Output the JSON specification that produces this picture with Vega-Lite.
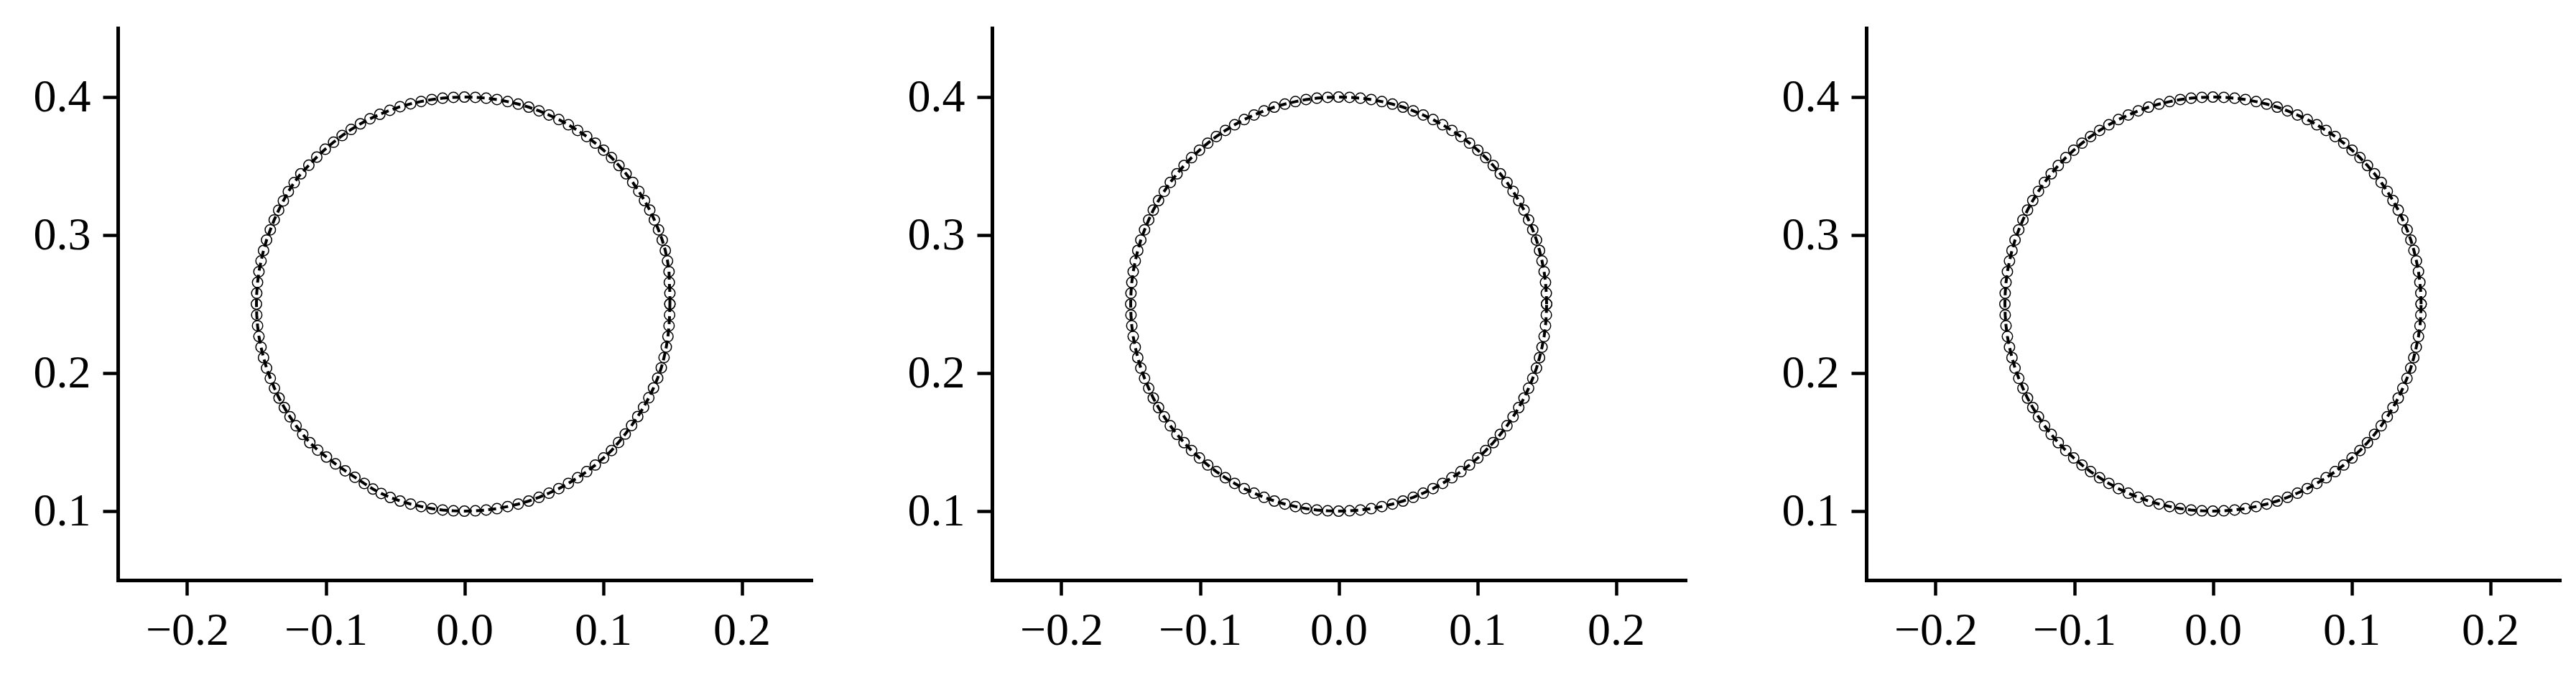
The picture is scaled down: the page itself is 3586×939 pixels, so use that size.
{
  "$schema": "https://vega.github.io/schema/vega-lite/v6.json",
  "padding": {"left": 46, "top": 39, "right": 5, "bottom": 5},
  "background": "white",
  "bounds": "flush",
  "spacing": 252,
  "config": {
    "view": {"stroke": null},
    "font": "Liberation Serif",
    "axis": {
      "grid": false,
      "title": null,
      "domainColor": "black",
      "domainWidth": 5,
      "domainCap": "square",
      "tickColor": "black",
      "tickWidth": 4.5,
      "tickSize": 21,
      "labelFont": "Liberation Serif",
      "labelFontSize": 64,
      "labelColor": "black",
      "labelPadding": 17
    }
  },
  "datasets": {
    "p1": [
      {"i":0,"x":0.1482,"y":0.2500},{"i":1,"x":0.1482,"y":0.2579},{"i":2,"x":0.1478,"y":0.2657},{"i":3,"x":0.1476,"y":0.2735},{"i":4,"x":0.1465,"y":0.2812},
      {"i":5,"x":0.1449,"y":0.2888},{"i":6,"x":0.1427,"y":0.2964},{"i":7,"x":0.1400,"y":0.3038},{"i":8,"x":0.1370,"y":0.3110},{"i":9,"x":0.1337,"y":0.3181},
      {"i":10,"x":0.1299,"y":0.3250},{"i":11,"x":0.1258,"y":0.3317},{"i":12,"x":0.1214,"y":0.3382},{"i":13,"x":0.1166,"y":0.3444},{"i":14,"x":0.1115,"y":0.3504},
      {"i":15,"x":0.1061,"y":0.3561},{"i":16,"x":0.1004,"y":0.3615},{"i":17,"x":0.0944,"y":0.3666},{"i":18,"x":0.0882,"y":0.3714},{"i":19,"x":0.0817,"y":0.3758},
      {"i":20,"x":0.0750,"y":0.3799},{"i":21,"x":0.0681,"y":0.3837},{"i":22,"x":0.0610,"y":0.3870},{"i":23,"x":0.0538,"y":0.3900},{"i":24,"x":0.0464,"y":0.3927},
      {"i":25,"x":0.0388,"y":0.3949},{"i":26,"x":0.0312,"y":0.3967},{"i":27,"x":0.0235,"y":0.3982},{"i":28,"x":0.0157,"y":0.3992},{"i":29,"x":0.0079,"y":0.3998},
      {"i":30,"x":0.0000,"y":0.4000},{"i":31,"x":-0.0079,"y":0.3998},{"i":32,"x":-0.0157,"y":0.3992},{"i":33,"x":-0.0235,"y":0.3982},{"i":34,"x":-0.0312,"y":0.3968},
      {"i":35,"x":-0.0388,"y":0.3951},{"i":36,"x":-0.0464,"y":0.3930},{"i":37,"x":-0.0538,"y":0.3904},{"i":38,"x":-0.0610,"y":0.3875},{"i":39,"x":-0.0681,"y":0.3843},
      {"i":40,"x":-0.0750,"y":0.3806},{"i":41,"x":-0.0817,"y":0.3765},{"i":42,"x":-0.0882,"y":0.3721},{"i":43,"x":-0.0944,"y":0.3673},{"i":44,"x":-0.1004,"y":0.3622},
      {"i":45,"x":-0.1065,"y":0.3565},{"i":46,"x":-0.1122,"y":0.3506},{"i":47,"x":-0.1180,"y":0.3444},{"i":48,"x":-0.1228,"y":0.3380},{"i":49,"x":-0.1270,"y":0.3315},
      {"i":50,"x":-0.1306,"y":0.3248},{"i":51,"x":-0.1340,"y":0.3180},{"i":52,"x":-0.1372,"y":0.3110},{"i":53,"x":-0.1400,"y":0.3038},{"i":54,"x":-0.1427,"y":0.2964},
      {"i":55,"x":-0.1449,"y":0.2888},{"i":56,"x":-0.1467,"y":0.2812},{"i":57,"x":-0.1482,"y":0.2735},{"i":58,"x":-0.1492,"y":0.2657},{"i":59,"x":-0.1498,"y":0.2579},
      {"i":60,"x":-0.1500,"y":0.2500},{"i":61,"x":-0.1498,"y":0.2421},{"i":62,"x":-0.1492,"y":0.2343},{"i":63,"x":-0.1482,"y":0.2265},{"i":64,"x":-0.1467,"y":0.2188},
      {"i":65,"x":-0.1449,"y":0.2112},{"i":66,"x":-0.1427,"y":0.2036},{"i":67,"x":-0.1400,"y":0.1962},{"i":68,"x":-0.1370,"y":0.1890},{"i":69,"x":-0.1337,"y":0.1819},
      {"i":70,"x":-0.1299,"y":0.1750},{"i":71,"x":-0.1258,"y":0.1683},{"i":72,"x":-0.1214,"y":0.1618},{"i":73,"x":-0.1166,"y":0.1556},{"i":74,"x":-0.1115,"y":0.1496},
      {"i":75,"x":-0.1058,"y":0.1442},{"i":76,"x":-0.0995,"y":0.1392},{"i":77,"x":-0.0930,"y":0.1342},{"i":78,"x":-0.0860,"y":0.1292},{"i":79,"x":-0.0790,"y":0.1245},
      {"i":80,"x":-0.0722,"y":0.1200},{"i":81,"x":-0.0660,"y":0.1160},{"i":82,"x":-0.0600,"y":0.1128},{"i":83,"x":-0.0535,"y":0.1099},{"i":84,"x":-0.0464,"y":0.1073},
      {"i":85,"x":-0.0388,"y":0.1051},{"i":86,"x":-0.0312,"y":0.1033},{"i":87,"x":-0.0235,"y":0.1018},{"i":88,"x":-0.0157,"y":0.1008},{"i":89,"x":-0.0079,"y":0.1002},
      {"i":90,"x":0.0000,"y":0.1000},{"i":91,"x":0.0079,"y":0.1002},{"i":92,"x":0.0157,"y":0.1008},{"i":93,"x":0.0235,"y":0.1018},{"i":94,"x":0.0312,"y":0.1033},
      {"i":95,"x":0.0388,"y":0.1051},{"i":96,"x":0.0464,"y":0.1073},{"i":97,"x":0.0538,"y":0.1100},{"i":98,"x":0.0610,"y":0.1130},{"i":99,"x":0.0681,"y":0.1163},
      {"i":100,"x":0.0750,"y":0.1201},{"i":101,"x":0.0817,"y":0.1242},{"i":102,"x":0.0882,"y":0.1286},{"i":103,"x":0.0944,"y":0.1334},{"i":104,"x":0.1004,"y":0.1385},
      {"i":105,"x":0.1061,"y":0.1439},{"i":106,"x":0.1112,"y":0.1498},{"i":107,"x":0.1160,"y":0.1558},{"i":108,"x":0.1206,"y":0.1620},{"i":109,"x":0.1250,"y":0.1685},
      {"i":110,"x":0.1292,"y":0.1752},{"i":111,"x":0.1330,"y":0.1821},{"i":112,"x":0.1364,"y":0.1892},{"i":113,"x":0.1394,"y":0.1964},{"i":114,"x":0.1420,"y":0.2038},
      {"i":115,"x":0.1440,"y":0.2113},{"i":116,"x":0.1456,"y":0.2189},{"i":117,"x":0.1468,"y":0.2265},{"i":118,"x":0.1476,"y":0.2343},{"i":119,"x":0.1480,"y":0.2421},
      {"i":120,"x":0.1482,"y":0.2500}
    ],
    "p2": [
      {"i":0,"x":0.1500,"y":0.2500},{"i":1,"x":0.1498,"y":0.2579},{"i":2,"x":0.1492,"y":0.2657},{"i":3,"x":0.1482,"y":0.2735},{"i":4,"x":0.1467,"y":0.2812},
      {"i":5,"x":0.1449,"y":0.2888},{"i":6,"x":0.1427,"y":0.2964},{"i":7,"x":0.1400,"y":0.3038},{"i":8,"x":0.1370,"y":0.3110},{"i":9,"x":0.1337,"y":0.3181},
      {"i":10,"x":0.1299,"y":0.3250},{"i":11,"x":0.1258,"y":0.3317},{"i":12,"x":0.1214,"y":0.3382},{"i":13,"x":0.1166,"y":0.3444},{"i":14,"x":0.1115,"y":0.3504},
      {"i":15,"x":0.1061,"y":0.3561},{"i":16,"x":0.1004,"y":0.3615},{"i":17,"x":0.0944,"y":0.3666},{"i":18,"x":0.0882,"y":0.3714},{"i":19,"x":0.0817,"y":0.3758},
      {"i":20,"x":0.0750,"y":0.3799},{"i":21,"x":0.0681,"y":0.3837},{"i":22,"x":0.0610,"y":0.3870},{"i":23,"x":0.0538,"y":0.3900},{"i":24,"x":0.0464,"y":0.3927},
      {"i":25,"x":0.0388,"y":0.3949},{"i":26,"x":0.0312,"y":0.3967},{"i":27,"x":0.0235,"y":0.3982},{"i":28,"x":0.0157,"y":0.3992},{"i":29,"x":0.0079,"y":0.3998},
      {"i":30,"x":0.0000,"y":0.4000},{"i":31,"x":-0.0079,"y":0.3998},{"i":32,"x":-0.0157,"y":0.3992},{"i":33,"x":-0.0235,"y":0.3982},{"i":34,"x":-0.0312,"y":0.3967},
      {"i":35,"x":-0.0388,"y":0.3949},{"i":36,"x":-0.0464,"y":0.3927},{"i":37,"x":-0.0538,"y":0.3900},{"i":38,"x":-0.0610,"y":0.3870},{"i":39,"x":-0.0681,"y":0.3837},
      {"i":40,"x":-0.0750,"y":0.3799},{"i":41,"x":-0.0817,"y":0.3758},{"i":42,"x":-0.0882,"y":0.3714},{"i":43,"x":-0.0944,"y":0.3666},{"i":44,"x":-0.1004,"y":0.3615},
      {"i":45,"x":-0.1061,"y":0.3561},{"i":46,"x":-0.1115,"y":0.3504},{"i":47,"x":-0.1166,"y":0.3444},{"i":48,"x":-0.1214,"y":0.3382},{"i":49,"x":-0.1258,"y":0.3317},
      {"i":50,"x":-0.1299,"y":0.3250},{"i":51,"x":-0.1337,"y":0.3181},{"i":52,"x":-0.1370,"y":0.3110},{"i":53,"x":-0.1400,"y":0.3038},{"i":54,"x":-0.1427,"y":0.2964},
      {"i":55,"x":-0.1449,"y":0.2888},{"i":56,"x":-0.1467,"y":0.2812},{"i":57,"x":-0.1482,"y":0.2735},{"i":58,"x":-0.1492,"y":0.2657},{"i":59,"x":-0.1498,"y":0.2579},
      {"i":60,"x":-0.1500,"y":0.2500},{"i":61,"x":-0.1498,"y":0.2421},{"i":62,"x":-0.1492,"y":0.2343},{"i":63,"x":-0.1482,"y":0.2265},{"i":64,"x":-0.1467,"y":0.2188},
      {"i":65,"x":-0.1449,"y":0.2112},{"i":66,"x":-0.1427,"y":0.2036},{"i":67,"x":-0.1400,"y":0.1962},{"i":68,"x":-0.1370,"y":0.1890},{"i":69,"x":-0.1337,"y":0.1819},
      {"i":70,"x":-0.1299,"y":0.1750},{"i":71,"x":-0.1258,"y":0.1683},{"i":72,"x":-0.1214,"y":0.1618},{"i":73,"x":-0.1166,"y":0.1556},{"i":74,"x":-0.1115,"y":0.1496},
      {"i":75,"x":-0.1061,"y":0.1439},{"i":76,"x":-0.1004,"y":0.1385},{"i":77,"x":-0.0944,"y":0.1334},{"i":78,"x":-0.0882,"y":0.1286},{"i":79,"x":-0.0817,"y":0.1242},
      {"i":80,"x":-0.0750,"y":0.1201},{"i":81,"x":-0.0681,"y":0.1163},{"i":82,"x":-0.0610,"y":0.1130},{"i":83,"x":-0.0538,"y":0.1100},{"i":84,"x":-0.0464,"y":0.1073},
      {"i":85,"x":-0.0388,"y":0.1051},{"i":86,"x":-0.0312,"y":0.1033},{"i":87,"x":-0.0235,"y":0.1018},{"i":88,"x":-0.0157,"y":0.1008},{"i":89,"x":-0.0079,"y":0.1002},
      {"i":90,"x":0.0000,"y":0.1000},{"i":91,"x":0.0079,"y":0.1002},{"i":92,"x":0.0157,"y":0.1008},{"i":93,"x":0.0235,"y":0.1018},{"i":94,"x":0.0312,"y":0.1033},
      {"i":95,"x":0.0388,"y":0.1051},{"i":96,"x":0.0464,"y":0.1073},{"i":97,"x":0.0538,"y":0.1100},{"i":98,"x":0.0610,"y":0.1130},{"i":99,"x":0.0681,"y":0.1163},
      {"i":100,"x":0.0750,"y":0.1201},{"i":101,"x":0.0817,"y":0.1242},{"i":102,"x":0.0882,"y":0.1286},{"i":103,"x":0.0944,"y":0.1334},{"i":104,"x":0.1004,"y":0.1385},
      {"i":105,"x":0.1061,"y":0.1439},{"i":106,"x":0.1115,"y":0.1496},{"i":107,"x":0.1166,"y":0.1556},{"i":108,"x":0.1214,"y":0.1618},{"i":109,"x":0.1258,"y":0.1683},
      {"i":110,"x":0.1299,"y":0.1750},{"i":111,"x":0.1337,"y":0.1819},{"i":112,"x":0.1370,"y":0.1890},{"i":113,"x":0.1400,"y":0.1962},{"i":114,"x":0.1427,"y":0.2036},
      {"i":115,"x":0.1449,"y":0.2112},{"i":116,"x":0.1467,"y":0.2188},{"i":117,"x":0.1482,"y":0.2265},{"i":118,"x":0.1492,"y":0.2343},{"i":119,"x":0.1498,"y":0.2421},
      {"i":120,"x":0.1500,"y":0.2500}
    ],
    "p3": [
      {"i":0,"x":0.1502,"y":0.2500},{"i":1,"x":0.1500,"y":0.2580},{"i":2,"x":0.1493,"y":0.2658},{"i":3,"x":0.1483,"y":0.2736},{"i":4,"x":0.1468,"y":0.2813},
      {"i":5,"x":0.1450,"y":0.2889},{"i":6,"x":0.1428,"y":0.2964},{"i":7,"x":0.1401,"y":0.3038},{"i":8,"x":0.1370,"y":0.3110},{"i":9,"x":0.1337,"y":0.3181},
      {"i":10,"x":0.1299,"y":0.3250},{"i":11,"x":0.1258,"y":0.3317},{"i":12,"x":0.1214,"y":0.3382},{"i":13,"x":0.1166,"y":0.3444},{"i":14,"x":0.1115,"y":0.3504},
      {"i":15,"x":0.1061,"y":0.3561},{"i":16,"x":0.1004,"y":0.3615},{"i":17,"x":0.0944,"y":0.3666},{"i":18,"x":0.0882,"y":0.3714},{"i":19,"x":0.0817,"y":0.3758},
      {"i":20,"x":0.0750,"y":0.3799},{"i":21,"x":0.0681,"y":0.3837},{"i":22,"x":0.0610,"y":0.3870},{"i":23,"x":0.0538,"y":0.3900},{"i":24,"x":0.0464,"y":0.3927},
      {"i":25,"x":0.0388,"y":0.3949},{"i":26,"x":0.0312,"y":0.3967},{"i":27,"x":0.0235,"y":0.3982},{"i":28,"x":0.0157,"y":0.3992},{"i":29,"x":0.0079,"y":0.3998},
      {"i":30,"x":0.0000,"y":0.4000},{"i":31,"x":-0.0079,"y":0.3998},{"i":32,"x":-0.0157,"y":0.3992},{"i":33,"x":-0.0235,"y":0.3982},{"i":34,"x":-0.0312,"y":0.3967},
      {"i":35,"x":-0.0388,"y":0.3949},{"i":36,"x":-0.0464,"y":0.3927},{"i":37,"x":-0.0538,"y":0.3900},{"i":38,"x":-0.0610,"y":0.3870},{"i":39,"x":-0.0681,"y":0.3837},
      {"i":40,"x":-0.0750,"y":0.3799},{"i":41,"x":-0.0817,"y":0.3758},{"i":42,"x":-0.0882,"y":0.3714},{"i":43,"x":-0.0944,"y":0.3666},{"i":44,"x":-0.1004,"y":0.3615},
      {"i":45,"x":-0.1061,"y":0.3561},{"i":46,"x":-0.1115,"y":0.3504},{"i":47,"x":-0.1166,"y":0.3444},{"i":48,"x":-0.1214,"y":0.3382},{"i":49,"x":-0.1258,"y":0.3317},
      {"i":50,"x":-0.1299,"y":0.3250},{"i":51,"x":-0.1337,"y":0.3181},{"i":52,"x":-0.1370,"y":0.3110},{"i":53,"x":-0.1400,"y":0.3038},{"i":54,"x":-0.1427,"y":0.2964},
      {"i":55,"x":-0.1449,"y":0.2888},{"i":56,"x":-0.1467,"y":0.2812},{"i":57,"x":-0.1482,"y":0.2735},{"i":58,"x":-0.1492,"y":0.2657},{"i":59,"x":-0.1498,"y":0.2579},
      {"i":60,"x":-0.1500,"y":0.2500},{"i":61,"x":-0.1498,"y":0.2421},{"i":62,"x":-0.1492,"y":0.2343},{"i":63,"x":-0.1482,"y":0.2265},{"i":64,"x":-0.1467,"y":0.2188},
      {"i":65,"x":-0.1449,"y":0.2112},{"i":66,"x":-0.1427,"y":0.2036},{"i":67,"x":-0.1400,"y":0.1962},{"i":68,"x":-0.1370,"y":0.1890},{"i":69,"x":-0.1337,"y":0.1819},
      {"i":70,"x":-0.1299,"y":0.1750},{"i":71,"x":-0.1258,"y":0.1683},{"i":72,"x":-0.1214,"y":0.1618},{"i":73,"x":-0.1166,"y":0.1556},{"i":74,"x":-0.1115,"y":0.1496},
      {"i":75,"x":-0.1061,"y":0.1439},{"i":76,"x":-0.1004,"y":0.1385},{"i":77,"x":-0.0944,"y":0.1334},{"i":78,"x":-0.0882,"y":0.1286},{"i":79,"x":-0.0817,"y":0.1242},
      {"i":80,"x":-0.0750,"y":0.1201},{"i":81,"x":-0.0681,"y":0.1163},{"i":82,"x":-0.0610,"y":0.1130},{"i":83,"x":-0.0538,"y":0.1100},{"i":84,"x":-0.0464,"y":0.1073},
      {"i":85,"x":-0.0388,"y":0.1051},{"i":86,"x":-0.0312,"y":0.1033},{"i":87,"x":-0.0235,"y":0.1018},{"i":88,"x":-0.0157,"y":0.1008},{"i":89,"x":-0.0079,"y":0.1002},
      {"i":90,"x":0.0000,"y":0.1000},{"i":91,"x":0.0079,"y":0.1002},{"i":92,"x":0.0157,"y":0.1008},{"i":93,"x":0.0235,"y":0.1018},{"i":94,"x":0.0312,"y":0.1033},
      {"i":95,"x":0.0388,"y":0.1051},{"i":96,"x":0.0464,"y":0.1073},{"i":97,"x":0.0538,"y":0.1100},{"i":98,"x":0.0610,"y":0.1130},{"i":99,"x":0.0681,"y":0.1163},
      {"i":100,"x":0.0750,"y":0.1201},{"i":101,"x":0.0817,"y":0.1242},{"i":102,"x":0.0882,"y":0.1286},{"i":103,"x":0.0944,"y":0.1334},{"i":104,"x":0.1004,"y":0.1385},
      {"i":105,"x":0.1061,"y":0.1439},{"i":106,"x":0.1115,"y":0.1496},{"i":107,"x":0.1166,"y":0.1556},{"i":108,"x":0.1214,"y":0.1618},{"i":109,"x":0.1258,"y":0.1683},
      {"i":110,"x":0.1299,"y":0.1750},{"i":111,"x":0.1337,"y":0.1819},{"i":112,"x":0.1370,"y":0.1890},{"i":113,"x":0.1400,"y":0.1962},{"i":114,"x":0.1427,"y":0.2036},
      {"i":115,"x":0.1449,"y":0.2112},{"i":116,"x":0.1467,"y":0.2188},{"i":117,"x":0.1483,"y":0.2265},{"i":118,"x":0.1494,"y":0.2343},{"i":119,"x":0.1500,"y":0.2421},
      {"i":120,"x":0.1502,"y":0.2500}
    ]
  },
  "hconcat": [
    {
      "width": 965, "height": 768,
      "data": {"name": "p1"},
      "encoding": {
        "x": {"field": "x", "type": "quantitative", "scale": {"domain": [-0.25, 0.25], "nice": false, "zero": false}, "axis": {"values": [-0.2, -0.1, 0, 0.1, 0.2], "format": ".1f"}},
        "y": {"field": "y", "type": "quantitative", "scale": {"domain": [0.05, 0.45], "nice": false, "zero": false}, "axis": {"values": [0.1, 0.2, 0.3, 0.4], "format": ".1f"}}
      },
      "layer": [
        {"mark": {"type": "point", "shape": "circle", "size": 210, "filled": true, "fill": "white", "stroke": "black", "strokeWidth": 1.5, "opacity": 1}},
        {"mark": {"type": "line", "color": "black", "strokeWidth": 4, "strokeDash": [11, 6]}, "encoding": {"order": {"field": "i", "type": "quantitative"}}}
      ]
    },
    {
      "width": 965, "height": 768,
      "data": {"name": "p2"},
      "encoding": {
        "x": {"field": "x", "type": "quantitative", "scale": {"domain": [-0.25, 0.25], "nice": false, "zero": false}, "axis": {"values": [-0.2, -0.1, 0, 0.1, 0.2], "format": ".1f"}},
        "y": {"field": "y", "type": "quantitative", "scale": {"domain": [0.05, 0.45], "nice": false, "zero": false}, "axis": {"values": [0.1, 0.2, 0.3, 0.4], "format": ".1f"}}
      },
      "layer": [
        {"mark": {"type": "point", "shape": "circle", "size": 210, "filled": true, "fill": "white", "stroke": "black", "strokeWidth": 1.5, "opacity": 1}},
        {"mark": {"type": "line", "color": "black", "strokeWidth": 4, "strokeDash": [11, 6]}, "encoding": {"order": {"field": "i", "type": "quantitative"}}}
      ]
    },
    {
      "width": 965, "height": 768,
      "data": {"name": "p3"},
      "encoding": {
        "x": {"field": "x", "type": "quantitative", "scale": {"domain": [-0.25, 0.25], "nice": false, "zero": false}, "axis": {"values": [-0.2, -0.1, 0, 0.1, 0.2], "format": ".1f"}},
        "y": {"field": "y", "type": "quantitative", "scale": {"domain": [0.05, 0.45], "nice": false, "zero": false}, "axis": {"values": [0.1, 0.2, 0.3, 0.4], "format": ".1f"}}
      },
      "layer": [
        {"mark": {"type": "point", "shape": "circle", "size": 210, "filled": true, "fill": "white", "stroke": "black", "strokeWidth": 1.5, "opacity": 1}},
        {"mark": {"type": "line", "color": "black", "strokeWidth": 4, "strokeDash": [11, 6]}, "encoding": {"order": {"field": "i", "type": "quantitative"}}}
      ]
    }
  ]
}
